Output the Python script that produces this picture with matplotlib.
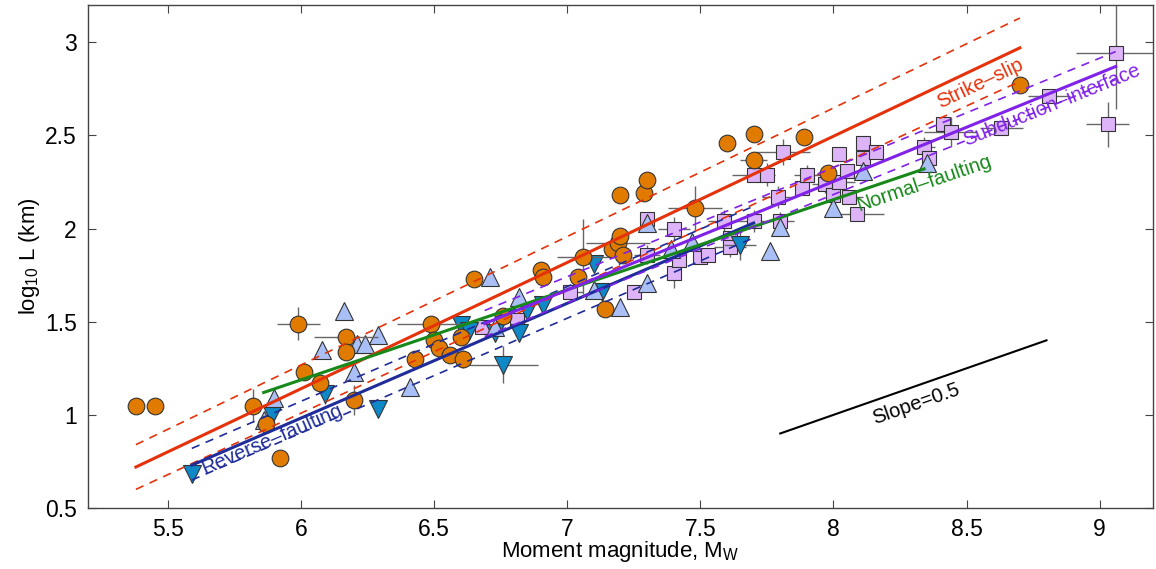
import numpy as np
import matplotlib
matplotlib.use("Agg")
import matplotlib.pyplot as plt

plt.rcParams["font.family"] = ["Liberation Sans", "DejaVu Sans"]
plt.rcParams["mathtext.default"] = "regular"

# strike-slip (circles)
ss_mw = [5.38, 5.45, 5.82, 5.87, 5.92, 5.99, 6.01, 6.07, 6.17, 6.17,
         6.20, 6.43, 6.49, 6.50, 6.52, 6.56, 6.60, 6.61, 6.65, 6.76,
         6.90, 6.91, 7.04, 7.06, 7.14, 7.17, 7.19, 7.20, 7.21, 7.20,
         7.29, 7.30, 7.48, 7.60, 7.70, 7.70, 7.89, 7.98, 8.70]
ss_logl = [1.05, 1.05, 1.05, 0.95, 0.77, 1.49, 1.23, 1.17, 1.42, 1.34,
           1.08, 1.30, 1.49, 1.40, 1.36, 1.32, 1.42, 1.30, 1.73, 1.53,
           1.78, 1.74, 1.74, 1.85, 1.57, 1.89, 1.92, 1.96, 1.86, 2.18,
           2.19, 2.26, 2.11, 2.46, 2.51, 2.37, 2.49, 2.30, 2.77]
ss_xerr = [0, 0, 0, 0, 0, 0.08, 0, 0, 0.12, 0,
           0, 0, 0.13, 0, 0, 0, 0, 0, 0, 0,
           0, 0, 0, 0.10, 0, 0, 0.12, 0, 0, 0,
           0, 0, 0.10, 0, 0, 0.05, 0, 0, 0]
ss_yerr = [0, 0, 0.09, 0, 0, 0.09, 0, 0, 0, 0,
           0.08, 0, 0, 0, 0, 0, 0, 0.05, 0, 0,
           0, 0, 0, 0.20, 0, 0, 0, 0, 0, 0,
           0, 0, 0.12, 0, 0, 0, 0, 0, 0]

# normal faulting (up triangles)
nf_mw = [5.86, 5.90, 6.08, 6.16, 6.20, 6.21, 6.24, 6.29, 6.41, 6.71,
         6.73, 6.82, 7.10, 7.20, 7.30, 7.30, 7.39, 7.47, 7.76, 7.80,
         8.00, 8.11, 8.35]
nf_logl = [0.97, 1.09, 1.35, 1.56, 1.23, 1.38, 1.38, 1.43, 1.15, 1.74,
           1.47, 1.63, 1.67, 1.58, 2.03, 1.71, 1.89, 1.93, 1.88, 2.01,
           2.11, 2.31, 2.35]

# reverse faulting (down triangles)
rf_mw = [5.59, 5.89, 6.09, 6.29, 6.60, 6.63, 6.73, 6.76, 6.82, 6.85,
         6.91, 7.10, 7.13, 7.65]
rf_logl = [0.68, 1.00, 1.11, 1.03, 1.48, 1.45, 1.44, 1.27, 1.44, 1.56,
           1.59, 1.81, 1.66, 1.91]
rf_xerr = [0, 0, 0, 0, 0, 0, 0, 0.13, 0, 0, 0, 0, 0, 0.06]
rf_yerr = [0, 0, 0.05, 0, 0, 0, 0, 0.10, 0, 0, 0, 0, 0, 0.08]

# subduction interface (squares)
si_mw = [6.68, 6.81, 7.01, 7.25, 7.30, 7.30, 7.40, 7.40, 7.42, 7.50,
         7.53, 7.59, 7.61, 7.61, 7.70, 7.70, 7.75, 7.79, 7.80, 7.81,
         7.88, 7.90, 7.97, 8.00, 8.02, 8.02, 8.05, 8.06, 8.09, 8.11,
         8.11, 8.16, 8.34, 8.36, 8.41, 8.44, 8.63, 8.81, 9.03, 9.06]
si_logl = [1.47, 1.51, 1.66, 1.66, 2.05, 1.86, 2.00, 1.76, 1.83, 1.85,
           1.86, 2.04, 1.95, 1.90, 2.29, 2.04, 2.29, 2.17, 2.04, 2.41,
           2.22, 2.29, 2.24, 2.18, 2.25, 2.40, 2.31, 2.17, 2.08, 2.46,
           2.38, 2.41, 2.44, 2.38, 2.56, 2.52, 2.54, 2.71, 2.56, 2.94]
si_xerr = [0, 0, 0.05, 0, 0, 0.05, 0.06, 0, 0, 0,
           0, 0.06, 0, 0.06, 0.08, 0.05, 0, 0.06, 0.05, 0.10,
           0, 0.05, 0.05, 0, 0.06, 0, 0, 0.05, 0.10, 0,
           0, 0, 0.04, 0, 0, 0.10, 0.08, 0.08, 0.08, 0.15]
si_yerr = [0, 0, 0, 0, 0, 0.05, 0.06, 0.08, 0, 0,
           0, 0.06, 0, 0.05, 0, 0.06, 0.06, 0.06, 0.05, 0.07,
           0, 0.05, 0.05, 0.05, 0, 0, 0, 0, 0, 0,
           0, 0, 0.05, 0.05, 0, 0.08, 0, 0.03, 0.12, 0.30]

# regression lines (end points) and +/- bands
ss_fit_mw = [5.38, 8.70]
ss_fit = [0.72, 2.97]
ss_hi = [0.84, 3.13]
ss_lo = [0.60, 2.79]
rf_fit_mw = [5.59, 7.70]
rf_fit = [0.73, 2.03]
rf_hi = [0.82, 2.12]
rf_lo = [0.65, 1.95]
nf_fit_mw = [5.86, 8.34]
nf_fit = [1.12, 2.32]
si_fit_mw = [6.69, 9.06]
si_fit = [1.49, 2.87]
si_hi = [1.56, 2.95]
si_lo = [1.42, 2.80]
ref_mw = [7.8, 8.8]
ref_logl = [0.9, 1.4]

RED = "#e5320a"
NAVY = "#1f2c99"
GREEN = "#17891a"
PURPLE = "#8022e8"
ERR = "#666666"

fig = plt.figure(figsize=(11.56, 5.69), dpi=100)
ax = fig.add_axes([0.0761, 0.1072, 0.9213, 0.884])

common = dict(ecolor=ERR, elinewidth=1.0, capsize=0, linestyle="none",
              markeredgecolor="#333333", markeredgewidth=0.8)
ax.errorbar(si_mw, si_logl, xerr=si_xerr, yerr=si_yerr, fmt="s",
            markersize=10.5, markerfacecolor="#dcb4f7", zorder=2, **common)
ax.errorbar(rf_mw, rf_logl, xerr=rf_xerr, yerr=rf_yerr, fmt="v",
            markersize=13, markerfacecolor="#0f88c8", zorder=3, **common)
ax.errorbar(nf_mw, nf_logl, fmt="^", markersize=13,
            markerfacecolor="#a9bff5", zorder=3, **common)
ax.errorbar(ss_mw, ss_logl, xerr=ss_xerr, yerr=ss_yerr, fmt="o",
            markersize=12, markerfacecolor="#e07b00", zorder=4, **common)

dash = (5, 4)
ax.plot(ss_fit_mw, ss_fit, color=RED, lw=2.2, zorder=5)
ax.plot(ss_fit_mw, ss_hi, color=RED, lw=1.2, dashes=dash, zorder=5)
ax.plot(ss_fit_mw, ss_lo, color=RED, lw=1.2, dashes=dash, zorder=5)
ax.plot(rf_fit_mw, rf_fit, color=NAVY, lw=2.2, zorder=5)
ax.plot(rf_fit_mw, rf_hi, color=NAVY, lw=1.2, dashes=dash, zorder=5)
ax.plot(rf_fit_mw, rf_lo, color=NAVY, lw=1.2, dashes=dash, zorder=5)
ax.plot(nf_fit_mw, nf_fit, color=GREEN, lw=2.2, zorder=5)
ax.plot(si_fit_mw, si_fit, color=PURPLE, lw=2.2, zorder=5)
ax.plot(si_fit_mw, si_hi, color=PURPLE, lw=1.2, dashes=dash, zorder=5)
ax.plot(si_fit_mw, si_lo, color=PURPLE, lw=1.2, dashes=dash, zorder=5)
ax.plot(ref_mw, ref_logl, color="black", lw=1.5, zorder=5)


def slope_deg(xs, ys):
    return np.degrees(np.arctan((ys[1] - ys[0]) / (xs[1] - xs[0])))


label_kw = dict(fontsize=14.5, ha="center", va="center", rotation_mode="anchor",
                transform_rotates_text=True, zorder=6)
ax.text(8.55, 2.78, "Strike\u2013slip", color=RED,
        rotation=slope_deg(ss_fit_mw, ss_fit), **label_kw)
ax.text(8.82, 2.66, "Subduction\u2013interface", color=PURPLE,
        rotation=slope_deg(si_fit_mw, si_fit), **label_kw)
ax.text(8.34, 2.24, "Normal\u2013faulting", color=GREEN,
        rotation=slope_deg(nf_fit_mw, nf_fit), **label_kw)
ax.text(5.89, 0.87, "Reverse\u2013faulting", color=NAVY,
        rotation=slope_deg(rf_fit_mw, rf_fit), **label_kw)
ax.text(8.31, 1.06, "Slope=0.5", color="black",
        rotation=slope_deg(ref_mw, ref_logl), **label_kw)

ax.set_xlim(5.2, 9.2)
ax.set_ylim(0.5, 3.2)
ax.set_xticks([5.5, 6, 6.5, 7, 7.5, 8, 8.5, 9])
ax.set_xticklabels(["5.5", "6", "6.5", "7", "7.5", "8", "8.5", "9"])
ax.set_yticks([0.5, 1, 1.5, 2, 2.5, 3])
ax.set_yticklabels(["0.5", "1", "1.5", "2", "2.5", "3"])
ax.tick_params(direction="in", top=True, right=True, length=6, width=0.8,
               colors="#444444", labelcolor="black", labelsize=16.5)
ax.tick_params(axis="y", pad=8)
ax.tick_params(axis="x", pad=7)
for s in ax.spines.values():
    s.set_color("#444444")
    s.set_linewidth(1.0)

ax.set_xlabel("Moment magnitude, M$_W$", fontsize=16, labelpad=-1)
ax.set_ylabel("log$_{10}$ L (km)", fontsize=16, labelpad=2)

fig.savefig("out.png", dpi=100)
